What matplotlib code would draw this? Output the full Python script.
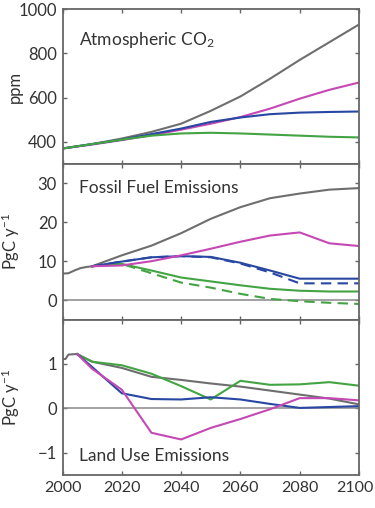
import matplotlib
matplotlib.use("Agg")
import matplotlib.pyplot as plt
import matplotlib.transforms as mtransforms

plt.rcParams['font.family'] = ['Lato', 'DejaVu Sans']
plt.rcParams['mathtext.default'] = 'regular'
plt.rcParams['axes.unicode_minus'] = True

# ---- data ----
years_hist = [2000, 2002, 2004, 2006, 2008, 2010]
years = [2010, 2020, 2030, 2040, 2050, 2060, 2070, 2080, 2090, 2100]
years_co2 = [2000, 2010, 2020, 2030, 2040, 2050, 2060, 2070, 2080, 2090, 2100]

co2_gray = [370, 390, 415, 445, 482, 540, 605, 685, 770, 850, 930]
co2_magenta = [370, 388, 408, 430, 455, 482, 512, 550, 595, 635, 668]
co2_blue = [370, 390, 410, 435, 460, 490, 510, 525, 532, 535, 537]
co2_green = [370, 390, 410, 428, 438, 441, 438, 433, 428, 423, 420]

ff_hist = [6.8, 6.9, 7.6, 8.2, 8.5, 8.7]
ff_gray = [8.7, 11.5, 14.0, 17.2, 20.9, 23.9, 26.2, 27.4, 28.4, 28.8]
ff_magenta = [8.7, 8.9, 10.0, 11.5, 13.2, 15.0, 16.6, 17.4, 14.6, 13.9]
ff_blue = [8.7, 9.9, 11.0, 11.3, 11.1, 9.6, 7.6, 5.5, 5.5, 5.5]
ff_blue_dash = [8.7, 9.9, 11.0, 11.3, 11.0, 9.4, 7.1, 4.3, 4.3, 4.3]
ff_green = [8.7, 9.3, 7.6, 5.8, 4.8, 3.8, 2.9, 2.4, 2.2, 2.2]
ff_green_dash = [8.7, 9.3, 6.9, 4.5, 3.2, 1.6, 0.3, -0.3, -0.7, -1.0]

lu_years_hist = [2000, 2001, 2002, 2004, 2005]
lu_hist = [1.11, 1.11, 1.21, 1.22, 1.22]
lu_years = [2005, 2010, 2020, 2030, 2040, 2050, 2060, 2070, 2080, 2090, 2100]
lu_gray = [1.22, 1.05, 0.91, 0.71, 0.64, 0.56, 0.49, 0.40, 0.31, 0.22, 0.09]
lu_green = [1.22, 1.05, 0.97, 0.78, 0.50, 0.20, 0.62, 0.53, 0.54, 0.59, 0.51]
lu_blue = [1.22, 0.93, 0.34, 0.21, 0.20, 0.25, 0.20, 0.10, 0.01, 0.03, 0.05]
lu_magenta = [1.22, 0.89, 0.42, -0.55, -0.70, -0.44, -0.24, -0.02, 0.23, 0.23, 0.18]

xticks = [2000, 2020, 2040, 2060, 2080, 2100]

C_GRAY = '#6e6e6e'
C_MAG = '#c548b4'
C_BLUE = '#2747a3'
C_GREEN = '#43a443'
SPINE = '#666666'
TXT = '#333333'

fig = plt.figure(figsize=(3.75, 5.08), dpi=100)
L, W = 62.5 / 375, (359 - 62.5) / 375
def ax_at(top, bot):
    return fig.add_axes([L, 1 - bot / 508, W, (bot - top) / 508])

ax1 = ax_at(9, 164)
ax2 = ax_at(164, 319.5)
ax3 = ax_at(319.5, 475)

lw = 1.5
for ax in (ax1, ax2, ax3):
    ax.set_xlim(2000, 2100)
    ax.set_xticks(xticks)
    ax.tick_params(direction='in', length=3, width=1, color=SPINE,
                   top=True, right=True, labelsize=12, labelcolor=TXT, pad=4)
    ax.tick_params(axis='x', labelsize=11.5)
    for s in ax.spines.values():
        s.set_color(SPINE)
        s.set_linewidth(1.3)

# Panel 1
ax1.plot(years_co2, co2_gray, color=C_GRAY, lw=lw)
ax1.plot(years_co2, co2_magenta, color=C_MAG, lw=lw)
ax1.plot(years_co2, co2_blue, color=C_BLUE, lw=lw)
ax1.plot(years_co2, co2_green, color=C_GREEN, lw=lw)
ax1.set_ylim(300, 1000)
ax1.set_yticks([400, 600, 800, 1000])
ax1.set_xticklabels([])
ax1.set_ylabel('ppm', fontsize=12, color=TXT)
ax1.text(0.055, 0.80, 'Atmospheric CO$_2$', transform=ax1.transAxes,
         fontsize=12.5, color=TXT, va='center', ha='left')

# Panel 2
ax2.axhline(0, color='#888888', lw=1.1)
ax2.plot(years_hist, ff_hist, color=C_GRAY, lw=lw)
ax2.plot(years, ff_gray, color=C_GRAY, lw=lw)
ax2.plot(years, ff_blue_dash, color=C_BLUE, lw=lw, ls=(0, (5, 3)))
ax2.plot(years, ff_green_dash, color=C_GREEN, lw=lw, ls=(0, (5, 3)))
ax2.plot(years, ff_green, color=C_GREEN, lw=lw)
ax2.plot(years, ff_blue, color=C_BLUE, lw=lw)
ax2.plot(years, ff_magenta, color=C_MAG, lw=lw)
ax2.set_ylim(-5, 35)
ax2.set_yticks([0, 10, 20, 30])
ax2.set_xticklabels([])
ax2.set_ylabel('PgC y$^{-1}$', fontsize=12, color=TXT)
ax2.text(0.055, 0.845, 'Fossil Fuel Emissions', transform=ax2.transAxes,
         fontsize=12.5, color=TXT, va='center', ha='left')

# Panel 3
ax3.axhline(0, color='#888888', lw=1.1)
ax3.plot(lu_years_hist, lu_hist, color=C_GRAY, lw=lw)
ax3.plot(lu_years, lu_gray, color=C_GRAY, lw=lw)
ax3.plot(lu_years, lu_green, color=C_GREEN, lw=lw)
ax3.plot(lu_years, lu_blue, color=C_BLUE, lw=lw)
ax3.plot(lu_years, lu_magenta, color=C_MAG, lw=lw)
ax3.set_ylim(-1.5, 2)
ax3.set_yticks([-1, 0, 1])
ax3.set_xticklabels([str(x) for x in xticks])
ax3.set_ylabel('PgC y$^{-1}$', fontsize=12, color=TXT)
ax3.text(0.055, 0.12, 'Land Use Emissions', transform=ax3.transAxes,
         fontsize=12.5, color=TXT, va='center', ha='left')

# nudge the last x tick label so it stays inside the canvas
last = ax3.get_xticklabels()[-1]
last.set_transform(last.get_transform() +
                   mtransforms.ScaledTranslation(-4 / 100, 0, fig.dpi_scale_trans))

for ax in (ax1, ax2, ax3):
    ax.yaxis.set_label_coords(-0.135, 0.5)

fig.savefig('out.png', dpi=100)
